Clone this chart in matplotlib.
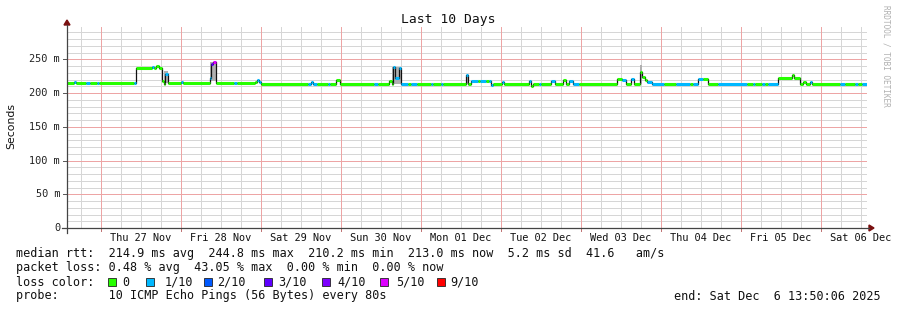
import datetime as dt
import matplotlib
matplotlib.use("Agg")
import matplotlib.pyplot as plt
import matplotlib.dates as mdates
from matplotlib.lines import Line2D
from matplotlib.patches import Polygon, Rectangle
from matplotlib.transforms import blended_transform_factory

plt.rcParams["axes.grid"] = False

# ---------------- data ----------------
start = dt.datetime(2025, 11, 26, 13, 50, 6)
end = dt.datetime(2025, 12, 6, 13, 50, 6)

# median RTT segments: start (hours since start), value (ms), loss count (of 10)
seg_hours = [0.0, 2.1, 2.7, 5.7, 6.9, 9.0, 9.6, 20.1, 20.6, 25.5, 26.1, 26.7, 27.6, 28.5,
             29.0, 29.4, 30.3, 34.2, 34.8, 42.9, 43.2, 43.8, 44.6, 50.1, 51.0, 56.4, 57.0,
             57.6, 58.2, 72.3, 73.2, 73.8, 75.0, 78.3, 78.9, 80.7, 81.9, 92.1, 93.3, 96.6,
             97.5, 97.8, 98.4, 99.6, 100.2, 102.3, 103.2, 105.0, 109.2, 109.8, 112.2, 112.8,
             119.7, 120.3, 121.2, 123.3, 123.9, 125.7, 126.6, 127.2, 127.8, 130.5, 131.1,
             138.6, 139.2, 139.8, 141.6, 142.2, 145.2, 146.4, 148.8, 149.7, 150.6, 151.8,
             153.6, 165.0, 166.5, 167.7, 169.2, 170.1, 171.9, 172.5, 173.4, 174.0, 175.5,
             179.1, 182.7, 186.9, 187.8, 189.3, 190.8, 192.3, 195.3, 204.0, 205.8, 206.4,
             208.5, 209.4, 210.3, 213.3, 217.5, 218.1, 219.9, 220.8, 221.7, 222.9, 223.5,
             231.9, 233.4, 236.4, 237.3, 238.5]
seg_rtt = [215, 216, 215, 215, 215, 215, 215, 215, 237, 238, 237, 240, 237, 218,
           214, 228, 215, 217, 215, 222, 243, 246, 215, 215, 215, 217, 220,
           216, 213, 214, 217, 214, 213, 213, 214, 220, 214, 214, 214, 218,
           214, 238, 222, 237, 214, 214, 214, 214, 214, 214, 214, 214,
           227, 214, 218, 218, 218, 218, 218, 212, 214, 216, 214,
           218, 210.2, 213, 213, 214, 218, 214, 219, 214, 218, 214,
           214, 221, 219, 214, 221, 214, 231, 224, 219, 216, 214,
           214, 214, 214, 214, 221, 221, 214, 214, 214, 214, 214,
           214, 214, 214, 222, 226, 222, 214, 216, 214, 217, 214,
           214, 214, 214, 214, 213]
seg_loss = [0, 1, 0, 1, 0, 1, 0, 1, 0, 1, 0, 0, 0, 0,
            0, 1, 0, 1, 0, 1, 3, 5, 0, 1, 0, 0, 1,
            1, 0, 1, 1, 1, 0, 1, 0, 0, 0, 1, 0, 0,
            0, 1, 1, 1, 1, 0, 1, 0, 1, 0, 1, 0,
            1, 0, 1, 0, 1, 0, 1, 1, 0, 1, 0,
            1, 0, 0, 1, 0, 1, 0, 0, 0, 1, 1,
            0, 0, 1, 0, 1, 0, 0, 0, 0, 1, 1,
            0, 1, 0, 1, 1, 0, 0, 1, 0, 1, 0,
            1, 0, 1, 0, 0, 0, 0, 0, 0, 1, 0,
            1, 0, 1, 0, 1]

# smoke (spread of individual pings) around spikes
smoke_start = [29.0, 42.9, 97.5, 119.7, 171.9]
smoke_end = [30.3, 44.6, 100.2, 120.3, 172.5]
smoke_lo = [215, 218, 214, 214, 214]
smoke_hi = [232, 246, 238, 227, 241]

loss_labels = ["0", "1/10", "2/10", "3/10", "4/10", "5/10", "9/10"]
loss_colors = ["#26ff00", "#00b8ff", "#0059ff", "#5e00ff", "#7e00ff", "#dd00ff", "#ff0000"]
loss_levels = [0, 1, 2, 3, 4, 5, 9]

day_labels = ["Thu 27 Nov", "Fri 28 Nov", "Sat 29 Nov", "Sun 30 Nov", "Mon 01 Dec",
              "Tue 02 Dec", "Wed 03 Dec", "Thu 04 Dec", "Fri 05 Dec", "Sat 06 Dec"]
ytick_vals = [0, 50, 100, 150, 200, 250]
ytick_labels = ["0", "50 m", "100 m", "150 m", "200 m", "250 m"]

title = "Last 10 Days"
ylabel = "Seconds"
legend_lines = [
    "median rtt:  214.9 ms avg  244.8 ms max  210.2 ms min  213.0 ms now  5.2 ms sd  41.6   am/s",
    "packet loss: 0.48 % avg  43.05 % max  0.00 % min  0.00 % now",
]
probe_text = "probe:       10 ICMP Echo Pings (56 Bytes) every 80s"
end_text = "end: Sat Dec  6 13:50:06 2025"
watermark = "RRDTOOL / TOBI OETIKER"

# ---------------- figure ----------------
W, H = 897, 310
MONO = "DejaVu Sans Mono"
fig = plt.figure(figsize=(W / 100, H / 100), dpi=100)
fig.patch.set_facecolor("white")


def fx(x):
    return x / W


def fy(y):
    return (H - y) / H


num = mdates.date2num

ax = fig.add_axes([fx(67), fy(228), 800 / W, 201 / H])
ax.set_facecolor("white")
ax.set_xlim(num(start), num(end))
ax.set_ylim(0, 297.8)
for s in ax.spines.values():
    s.set_visible(False)
ax.set_xticks([])
ax.set_yticks([])
ax.grid(False)

# grid lines (thin, light, crisp)
minor_c, major_c = "#d6d6d6", "#eda5a5"
gkw = dict(linewidth=0.72, antialiased=False)
midnights = []
t = start.replace(hour=0, minute=0, second=0)
while t <= end:
    for hh in (6, 12, 18):
        tm = t + dt.timedelta(hours=hh)
        if start < tm < end:
            ax.axvline(num(tm), color=minor_c, zorder=1, **gkw)
    if start < t < end:
        midnights.append(num(t))
    t += dt.timedelta(days=1)
for v in range(10, 300, 10):
    if v % 50 != 0:
        ax.axhline(v, color=minor_c, zorder=1, **gkw)
for m in midnights:
    ax.axvline(m, color=major_c, zorder=1.2, **gkw)
for v in ytick_vals[1:]:
    ax.axhline(v, color=major_c, zorder=1.2, **gkw)

# tick marks and labels (drawn explicitly)
trx = blended_transform_factory(ax.transData, fig.transFigure)
try_ = blended_transform_factory(fig.transFigure, ax.transData)
for v, lab in zip(ytick_vals, ytick_labels):
    fig.add_artist(Line2D([fx(63), fx(67)], [v, v], transform=try_, color="#555555",
                          linewidth=0.7))
    fig.text(fx(60), v, lab, transform=try_, ha="right", va="center",
             fontfamily=MONO, fontsize=7.4, color="#222222")
for m in midnights:
    fig.add_artist(Line2D([m, m], [fy(228), fy(231)], transform=trx, color="#c07070",
                          linewidth=0.7))
for i, lab in enumerate(day_labels):
    noon = num(dt.datetime(2025, 11, 27, 12) + dt.timedelta(days=i))
    fig.text(noon, fy(238), lab, transform=trx, ha="center", va="center",
             fontfamily=MONO, fontsize=7.4, color="#111111")

# smoke
for s0, s1, lo, hi in zip(smoke_start, smoke_end, smoke_lo, smoke_hi):
    t0 = num(start + dt.timedelta(hours=s0))
    t1 = num(start + dt.timedelta(hours=s1))
    ax.fill_between([t0, t1], [lo, lo], [hi, hi], color="#b0b0b0", linewidth=0, zorder=2)

# median line: thin black steps, then colored segments
times = [num(start + dt.timedelta(hours=h)) for h in seg_hours] + [num(end)]
step_x, step_y = [], []
for i, v in enumerate(seg_rtt):
    step_x += [times[i], times[i + 1]]
    step_y += [v, v]
ax.plot(step_x, step_y, color="#111111", linewidth=0.9, zorder=3)


def loss_color(n):
    c = loss_colors[0]
    for lv, col in zip(loss_levels, loss_colors):
        if n >= lv:
            c = col
    return c


for i, v in enumerate(seg_rtt):
    ax.plot([times[i], times[i + 1]], [v, v], color=loss_color(seg_loss[i]),
            linewidth=2.2, solid_capstyle="butt", zorder=4)

# axis lines with arrows
axc = "#444444"
fig.add_artist(Line2D([fx(62), fx(869)], [fy(228), fy(228)], color=axc, linewidth=0.9))
fig.add_artist(Line2D([fx(67), fx(67)], [fy(233), fy(25)], color=axc, linewidth=0.9))
arrow_c = "#7a1010"
fig.add_artist(Polygon([[fx(869), fy(225)], [fx(874), fy(228)], [fx(869), fy(231)]],
                       closed=True, color=arrow_c, transform=fig.transFigure))
fig.add_artist(Polygon([[fx(64), fy(25)], [fx(67), fy(20)], [fx(70), fy(25)]],
                       closed=True, color=arrow_c, transform=fig.transFigure))

# title and labels
fig.text(fx(448), fy(19), title, ha="center", va="center", fontfamily=MONO,
         fontsize=9.4, color="#111111")
fig.text(fx(11), fy(126), ylabel, ha="center", va="center", rotation=90,
         fontfamily="DejaVu Sans", fontsize=7.8, color="#111111")
fig.text(fx(886), fy(5), watermark, ha="center", va="top", rotation=270,
         fontfamily=MONO, fontsize=5.6, color="#b0b0b0")

# legend
fs = 8.5
for j, line in enumerate(legend_lines):
    fig.text(fx(16), fy(254 + 14 * j), line, ha="left", va="center", fontfamily=MONO,
             fontsize=fs, color="#111111")
fig.text(fx(16), fy(282), "loss color:", ha="left", va="center", fontfamily=MONO,
         fontsize=fs, color="#111111")
box_x = [108, 146, 204, 264, 322, 380, 437]
text_x = [122, 165, 217, 278, 337, 396, 450]
for bx, tx, lab, col in zip(box_x, text_x, loss_labels, loss_colors):
    fig.add_artist(Rectangle((fx(bx), fy(286)), 8 / W, 8 / H, facecolor=col,
                             edgecolor="#222222", linewidth=0.6, transform=fig.transFigure))
    fig.text(fx(tx), fy(282), lab, ha="left", va="center", fontfamily=MONO,
             fontsize=fs, color="#111111")
fig.text(fx(16), fy(296), probe_text, ha="left", va="center", fontfamily=MONO,
         fontsize=fs, color="#111111")
fig.text(fx(881), fy(296), end_text, ha="right", va="center", fontfamily=MONO,
         fontsize=fs, color="#111111")

fig.savefig("out.png", dpi=100, facecolor="white")
